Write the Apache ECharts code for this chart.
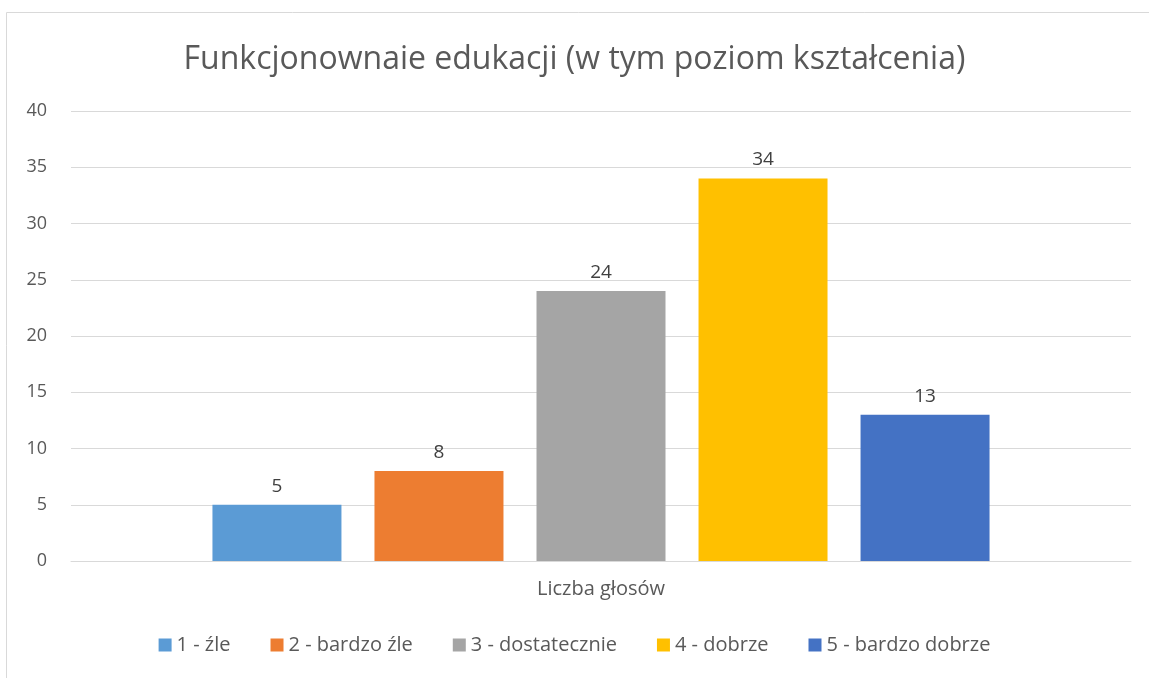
<!DOCTYPE html>
<html>
<head>
<meta charset="utf-8">
<script src="https://cdn.jsdelivr.net/npm/echarts@6/dist/echarts.min.js"></script>
<style>
  html, body { margin: 0; padding: 0; background: #fff; }
  #chart { width: 1149px; height: 678px; }
</style>
</head>
<body>
<div id="chart"></div>
<script>
const categories = ["Liczba głosów"];
const seriesNames = ["1 - źle", "2 - bardzo źle", "3 - dostatecznie", "4 - dobrze", "5 - bardzo dobrze"];
const seriesValues = [5, 8, 24, 34, 13];
const seriesColors = ["#5b9bd5", "#ed7d31", "#a5a5a5", "#ffc000", "#4472c4"];

const font = "'Open Sans', 'Noto Sans', sans-serif";

const chart = echarts.init(document.getElementById("chart"));

chart.setOption({
  animation: false,
  textStyle: { fontFamily: font },
  // frame of the chart area, only top and left edges fall inside the picture
  graphic: [
    {
      type: "rect",
      shape: { x: 6.5, y: 12.5, width: 1200, height: 700 },
      style: { fill: "none", stroke: "#d9d9d9", lineWidth: 1 },
      silent: true,
    },
  ],
  title: {
    text: "Funkcjonownaie edukacji (w tym poziom kształcenia)",
    left: "center",
    top: 39,
    textStyle: { fontFamily: font, fontSize: 32, fontWeight: "normal", color: "#595959" },
  },
  grid: { left: 71, right: 18, top: 111, bottom: 117, containLabel: false },
  xAxis: {
    type: "category",
    data: categories,
    axisLine: { show: true, lineStyle: { color: "#d9d9d9" } },
    axisTick: { show: false },
    axisLabel: { color: "#595959", fontSize: 20, margin: 18 },
  },
  yAxis: {
    type: "value",
    min: 0,
    max: 40,
    interval: 5,
    axisLine: { show: false },
    axisTick: { show: false },
    splitLine: { lineStyle: { color: "#d9d9d9", width: 1 } },
    axisLabel: { color: "#595959", fontSize: 18, margin: 24 },
  },
  legend: {
    bottom: 18,
    left: "center",
    itemWidth: 13,
    itemHeight: 13,
    itemGap: 40,
    icon: "rect",
    textStyle: { color: "#595959", fontSize: 20, fontFamily: font },
    data: seriesNames,
  },
  series: seriesNames.map((name, i) => ({
    name: name,
    type: "bar",
    data: [seriesValues[i]],
    barWidth: 129,
    barGap: "25.6%",
    itemStyle: { color: seriesColors[i] },
    label: {
      show: true,
      position: "top",
      distance: 9,
      color: "#404040",
      fontSize: 19,
    },
  })),
});
</script>
</body>
</html>
